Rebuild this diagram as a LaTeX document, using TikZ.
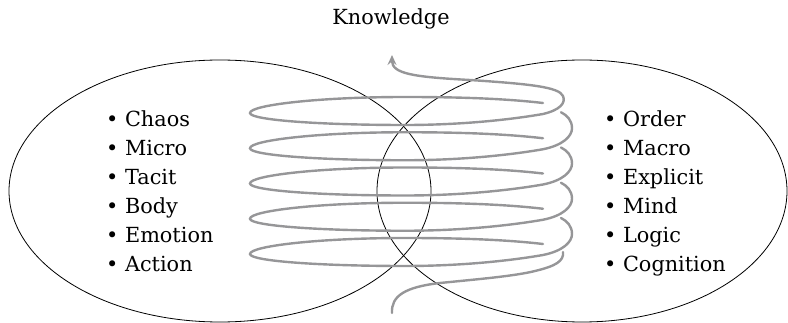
\documentclass[tikz,border=0pt]{standalone}
\usepackage{fontspec}
\setmainfont{DejaVu Serif}
\usetikzlibrary{arrows.meta}
\definecolor{spiralgray}{RGB}{150,150,152}
\begin{document}
\begin{tikzpicture}[x=1pt,y=-1pt,
  setline/.style={draw=black,line width=0.8pt},
  item/.style={anchor=base west,inner sep=0pt,font=\fontsize{20.8}{24}\selectfont},
  coil/.style={draw=spiralgray,line width=2.4pt,line cap=round}]
\useasboundingbox (0,0) rectangle (788,323);
% the two sets
\draw[setline] (220,191) ellipse [x radius=211, y radius=131];
\draw[setline] (582,191) ellipse [x radius=205, y radius=131];
% title
\node[anchor=base,inner sep=0pt,font=\fontsize{20.8}{24}\selectfont] (know) at (391,25) {Knowledge};
% left list
\node[item] (l1) at (106,127) {\textbullet\ Chaos};
\node[item] (l2) at (106,156) {\textbullet\ Micro};
\node[item] (l3) at (106,185) {\textbullet\ Tacit};
\node[item] (l4) at (106,214) {\textbullet\ Body};
\node[item] (l5) at (106,243) {\textbullet\ Emotion};
\node[item] (l6) at (106,272) {\textbullet\ Action};
% right list
\node[item] (r1) at (604,127) {\textbullet\ Order};
\node[item] (r2) at (604,156) {\textbullet\ Macro};
\node[item] (r3) at (604,185) {\textbullet\ Explicit};
\node[item] (r4) at (604,214) {\textbullet\ Mind};
\node[item] (r5) at (604,243) {\textbullet\ Logic};
\node[item] (r6) at (604,272) {\textbullet\ Cognition};
% spiral: entry from below
\coordinate (start) at (392,313);
\coordinate (tip) at (392,55);
\draw[coil] (start) .. controls (391,296) and (405,287) .. (440,283)
  .. controls (480,279) and (515,276) .. (535,271)
  .. controls (556,266) and (564,261) .. (563,252);
% lower coils
\foreach \yc in {148.25,183.5,218.75,254}{
\draw[coil] (543,\yc-10) .. controls (500,\yc-15) and (450,\yc-16) .. (405,\yc-16)
  .. controls (319,\yc-16) and (250,\yc-8) .. (250,\yc)
  .. controls (250,\yc+7) and (319,\yc+12) .. (405,\yc+12)
  .. controls (470,\yc+12) and (520,\yc+5) .. (543,\yc+1)
  .. controls (563,\yc-3) and (572,\yc-12) .. (572,\yc-20)
  .. controls (572,\yc-28) and (567,\yc-33) .. (561,\yc-36);
}
% top coil with exit arrow
\draw[coil,-{Stealth[length=10pt,width=9pt,inset=3.5pt]}] (543,103) .. controls (500,98) and (450,97) .. (405,97)
  .. controls (319,97) and (250,105) .. (250,113)
  .. controls (250,120) and (319,125) .. (405,125)
  .. controls (470,125) and (520,118) .. (543,114)
  .. controls (560,110) and (566,103) .. (563,96)
  .. controls (559,87) and (530,84) .. (470,80)
  .. controls (415,77) and (392,74) .. (tip);
\end{tikzpicture}
\end{document}
